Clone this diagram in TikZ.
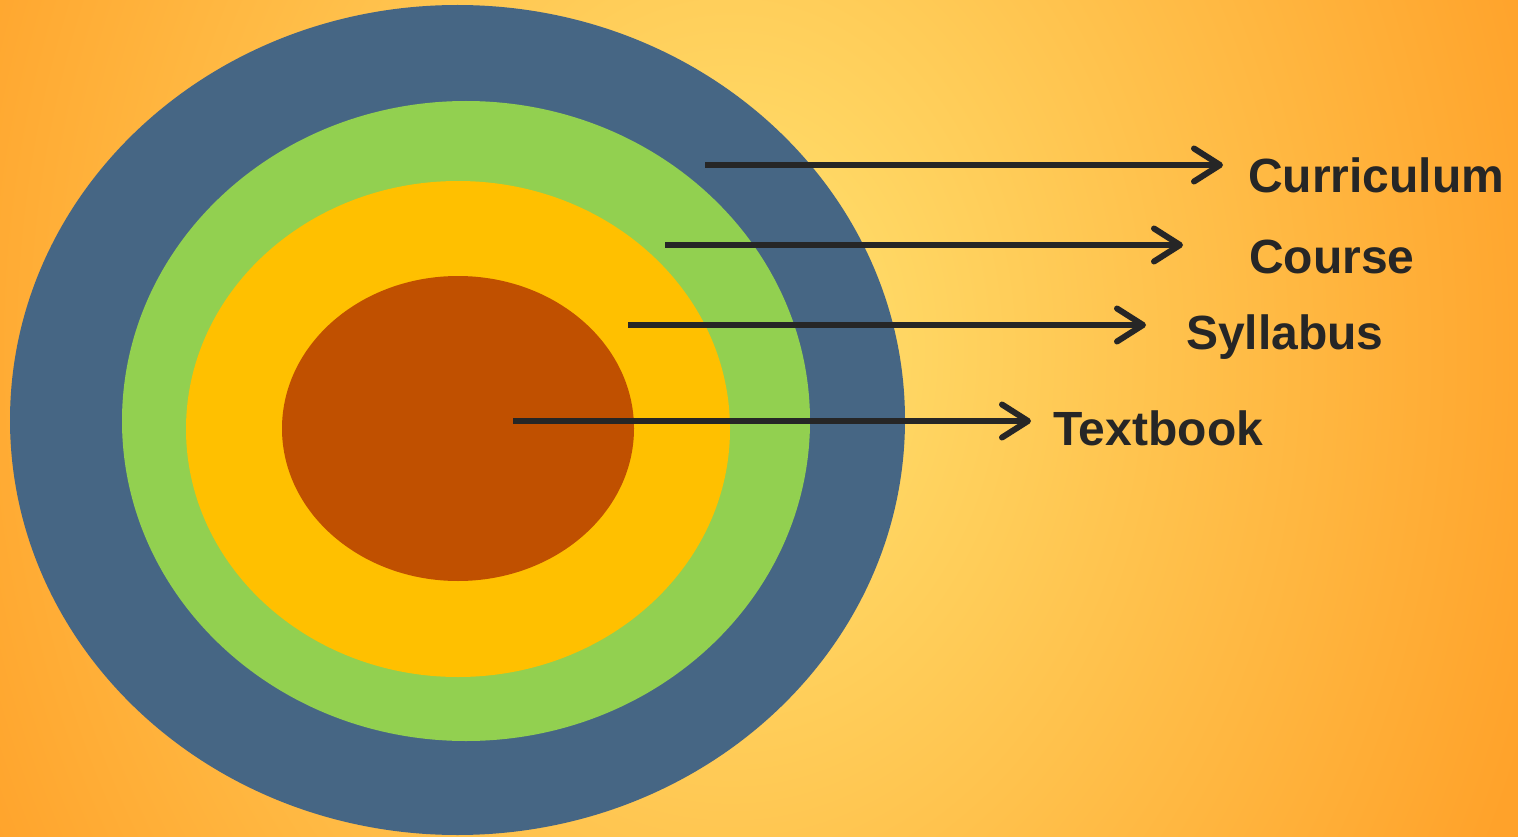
\documentclass[tikz,border=0pt]{standalone}
\usepackage{fontspec}
\setmainfont{Liberation Sans}
\usetikzlibrary{arrows.meta}
\definecolor{bgin}{HTML}{FFD966}
\definecolor{bgout}{HTML}{FFA22A}
\definecolor{ringblue}{HTML}{466684}
\definecolor{ringgreen}{HTML}{92D050}
\definecolor{ringyellow}{HTML}{FFC000}
\definecolor{ringbrown}{HTML}{C05000}
\definecolor{ink}{HTML}{262626}
\pgfdeclareradialshading{bgshade}{\pgfpoint{0bp}{0bp}}{color(0bp)=(bgin); color(4bp)=(bgin); color(25bp)=(bgout); color(50bp)=(bgout)}
\tikzset{
  pointer/.style={draw=ink, line width=6pt, -{Straight Barb[length=26pt,width=33pt,round]}},
  lbl/.style={anchor=base west, inner sep=0pt, text=ink, font=\fontsize{48}{56}\selectfont\bfseries}
}
\begin{document}
\begin{tikzpicture}[x=1pt,y=-1pt]
\useasboundingbox (0,0) rectangle (1518,837);
\shade[shading=bgshade] (-120,-750) rectangle (1580,1450);
\begin{scope}
\clip (0,0) rectangle (1518,837);
\fill[ringblue] (457.5,420) ellipse [x radius=447.5, y radius=415];
\fill[ringgreen] (466,421) ellipse [x radius=344, y radius=320];
\fill[ringyellow] (458,429) ellipse [x radius=272, y radius=248];
\fill[ringbrown] (458,428.5) ellipse [x radius=176, y radius=152.5];
\end{scope}
\coordinate (s1) at (705,165); \coordinate (t1) at (1223,165);
\coordinate (s2) at (665,245); \coordinate (t2) at (1183,245);
\coordinate (s3) at (628,325); \coordinate (t3) at (1146,325);
\coordinate (s4) at (513,421); \coordinate (t4) at (1031,421);
\draw[pointer] (s1) -- (t1);
\draw[pointer] (s2) -- (t2);
\draw[pointer] (s3) -- (t3);
\draw[pointer] (s4) -- (t4);
\node[lbl] (curriculum) at (1248,193) {Curriculum};
\node[lbl] (course) at (1249,273) {Course};
\node[lbl] (syllabus) at (1186,349) {Syllabus};
\node[lbl] (textbook) at (1053,445) {Textbook};
\end{tikzpicture}
\end{document}
